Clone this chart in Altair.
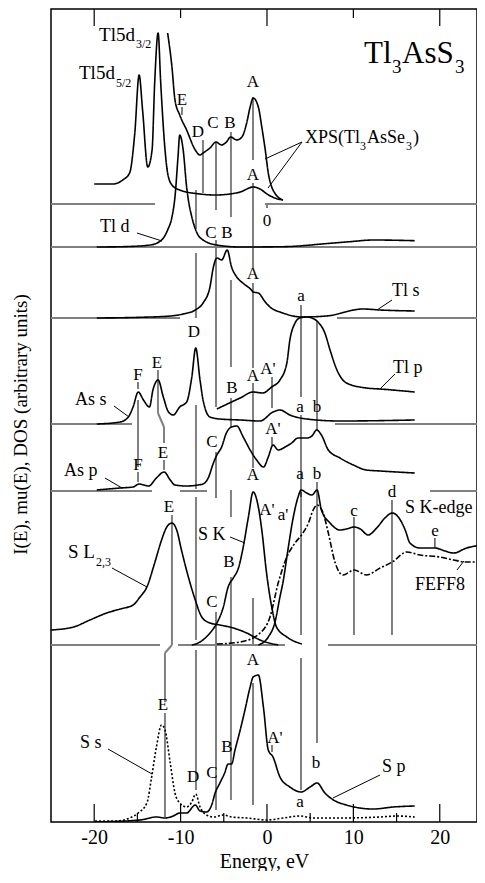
import altair as alt
import pandas as pd

FONT = "Liberation Serif"

# ---------------- spectra: energy (eV) and intensity above own baseline (arb. units)
xps_e = [-20.0, -17.8, -16.7, -15.9, -15.3, -14.8, -14.4, -13.8, -13.3, -13.0, -12.6, -12.3, -11.8,
         -11.5, -11.0, -10.1, -7.75, -6.0, -4.3, -3.1, -1.6, -0.8, 0.0, 0.9, 1.85]
xps_i = [16, 16, 20, 27, 67, 125, 90, 33, 50, 117, 167, 117, 50, 27, 15, 10, 6, 5, 6, 8, 13, 11, 6, 2, 0]

xpsv_e = [-11.5, -11.0, -10.65, -10.1, -9.3, -8.3, -7.75, -7.4, -6.6, -5.9, -5.25, -4.7, -4.2, -3.5,
          -2.9, -2.35, -1.95, -1.6, -1.0, -0.6, -0.2, 0.15, 0.55, 0.9, 1.85]
xpsv_i = [167, 133, 100, 85, 70, 50, 45, 47, 52, 58, 55, 58, 63, 60, 63, 77, 93, 102, 93, 73, 50, 27, 13, 7, 0]

tld_e = [-19.7, -16.7, -13.5, -12.2, -11.5, -11.0, -10.65, -10.3, -10.1, -9.7, -9.3, -9.1, -8.7, -8.1,
         -7.4, -5.8, -3.1, 1.85, 7.3, 9.6, 12.3, 17.1]
tld_i = [0, 0.3, 2, 7, 17, 30, 50, 90, 112, 97, 60, 47, 30, 14, 7, 2, 0, 0.3, 3.7, 5.3, 7, 6.3]

tls_e = [-19.7, -14.7, -11.2, -9.7, -8.3, -7.4, -6.6, -6.2, -5.8, -5.25, -4.6, -4.1, -3.5, -2.8, -1.8,
         -1.6, -1.0, -0.2, 0.35, 1.85, 4.0, 6.9, 11.1, 13.1, 17.1]
tls_i = [0, 0.7, 2, 4, 8, 15, 31, 51, 60, 58, 68, 51, 41, 35, 28, 26, 25, 16, 11, 5, 1, 2, 9, 8, 7]

tlp_e = [-5.8, -4.1, -3.1, -1.6, -0.5, 0.55, 1.5, 2.3, 2.65, 3.25, 3.8, 4.6, 5.2, 5.9, 6.7, 7.3, 8.1,
         9.2, 11.5, 13.1, 17.1]
tlp_i = [15, 22, 26, 32, 31, 37, 44, 61, 84, 101, 106, 107, 106, 102, 91, 74, 54, 41, 36, 35, 32]

ass_e = [-19.7, -17.0, -16.05, -15.5, -14.9, -14.3, -13.6, -13.2, -12.6, -12.0, -11.4, -10.85, -10.1,
         -9.3, -8.7, -8.25, -7.75, -7.4, -6.6, -5.45, -3.1, -0.8, 0.7, 1.5, 2.65, 4.6, 8.45, 17.1]
ass_i = [0, 2, 7, 17, 32, 24, 17, 34, 44, 27, 12, 9, 17, 22, 47, 76, 44, 24, 7, 5, 4, 3, 12, 14, 9, 5, 3, 4]

asp_e = [-19.7, -17.0, -15.5, -14.8, -13.7, -12.8, -11.9, -11.2, -10.65, -9.3, -8.0, -7.4, -6.8, -6.2,
         -5.8, -5.25, -4.7, -4.1, -3.5, -2.75, -1.95, -1.2, -0.4, 0.15, 0.7, 1.3, 2.1, 2.85, 3.6, 4.6,
         5.2, 5.75, 6.3, 7.1, 8.45, 10.0, 11.5, 13.1, 15.0, 17.1]
asp_i = [1, 3, 4, 7, 5, 13, 19, 11, 6, 5, 6, 7, 13, 28, 36, 44, 58, 64, 65, 54, 41, 31, 24, 34, 46, 41,
         44, 48, 53, 53, 55, 61, 56, 41, 33, 26, 21, 20, 19, 18]

sl_e = [-25.0, -22.4, -20.5, -18.55, -17.0, -15.5, -14.7, -13.9, -13.0, -12.2, -11.6, -11.0, -10.45,
        -9.9, -9.1, -8.3, -7.55, -6.6, -5.45, -3.9, -2.35, -0.8, 1.3]
sl_i = [15, 18, 25, 32, 36, 40, 48, 58, 82, 105, 118, 122, 115, 95, 68, 45, 28, 22, 20, 17, 12, 5, 0]

sk_e = [-8.7, -7.75, -6.6, -5.8, -5.05, -4.5, -3.9, -3.3, -2.75, -2.15, -1.6, -1.0, -0.6, -0.05, 0.55,
        1.1, 2.3, 4.05]
sk_i = [0, 3, 12, 22, 38, 58, 67, 77, 98, 128, 153, 138, 115, 72, 38, 18, 8, 1]

ske_e = [-1.0, 0.15, 0.9, 1.5, 1.9, 2.3, 3.05, 3.6, 3.95, 4.6, 5.2, 5.8, 6.3, 7.3, 8.45, 9.2, 10.1,
         10.8, 11.7, 12.7, 13.65, 14.5, 15.2, 16.0, 16.55, 17.7, 19.45, 20.6, 21.6, 23.1, 25.0]
ske_i = [0, 8, 22, 48, 65, 88, 128, 148, 155, 152, 150, 155, 135, 122, 115, 116, 118, 116, 110, 117,
         127, 132, 128, 115, 102, 97, 97, 94, 92, 97, 100]

feff_e = [-5.8, -3.1, -0.8, 0.35, 1.3, 2.3, 3.25, 4.0, 4.8, 5.35, 5.8, 6.5, 7.1, 7.9, 8.8, 10.1, 11.5,
          13.1, 14.5, 16.2, 17.7, 20.0, 21.6, 23.1, 24.65]
feff_i = [1, 3, 12, 28, 62, 88, 102, 110, 122, 135, 140, 132, 112, 82, 70, 75, 70, 77, 83, 93, 90, 88,
          85, 83, 83]

ss_e = [-19.9, -17.4, -15.9, -14.9, -13.9, -13.35, -12.8, -12.2, -11.8, -11.2, -10.65, -10.1, -9.3,
        -8.7, -8.25, -7.75, -7.0, -6.2, -5.05, -4.1, -2.35, 0.0, 1.9, 3.8, 5.35, 8.45, 13.1, 15.0, 17.1]
ss_i = [1, 1, 4, 9, 19, 45, 75, 97, 92, 59, 29, 19, 15, 20, 28, 15, 7, 5, 7, 5, 4, 2, 4, 6, 4, 4, 5, 6, 5]

sp_e = [-19.9, -14.7, -12.8, -11.8, -10.85, -10.1, -9.3, -8.3, -7.75, -7.0, -6.4, -6.0, -5.45, -4.9,
        -4.5, -4.1, -3.7, -3.1, -2.55, -1.95, -1.6, -1.0, -0.4, 0.15, 0.7, 1.5, 2.65, 3.95, 5.0, 5.8,
        6.7, 7.7, 9.2, 12.3, 14.6, 17.1]
sp_i = [0, 2, 5, 4, 6, 9, 9, 17, 11, 10, 17, 29, 39, 49, 58, 58, 72, 92, 112, 135, 145, 147, 114, 72,
        65, 45, 35, 30, 35, 39, 29, 22, 17, 13, 15, 16]

# stacking offsets of each spectrum (arb. units)
spectra = [
    ("XPS", xps_e, xps_i, 622, "solid"),
    ("XPS valence", xpsv_e, xpsv_i, 622, "solid"),
    ("Tl d", tld_e, tld_i, 575, "solid"),
    ("Tl s", tls_e, tls_i, 504, "solid"),
    ("Tl p", tlp_e, tlp_i, 398, "solid"),
    ("As s", ass_e, ass_i, 398, "solid"),
    ("As p", asp_e, asp_i, 331, "solid"),
    ("S L23", sl_e, sl_i, 177, "solid"),
    ("S K", sk_e, sk_i, 177, "solid"),
    ("S K-edge", ske_e, ske_i, 177, "solid"),
    ("FEFF8", feff_e, feff_i, 177, "dashdot"),
    ("S s", ss_e, ss_i, 0, "dot"),
    ("S p", sp_e, sp_i, 0, "solid"),
]

# ---------------- panel separators (energy range, level)
sep_e1 = [-25, -0.23, -25, -25, 8.10, -25, 7.87, -25, -10.07, 18.87, -25, -10.30, 7.06]
sep_e2 = [-12.96, 25, 25, -10.07, 25, -15.63, 25, -13.31, -6.94, 25, -12.38, 2.08, 25]
sep_y = [618, 618, 575, 504, 504, 398, 398, 331, 331, 331, 177, 177, 177]

# ---------------- feature marker lines (gray)
vg_e = [-8.22, -8.22, -8.22, -8.22, -8.22, -7.41, -5.90, -5.90, -5.90, -5.90,
        -4.17, -4.17, -4.17, -4.17, -4.17, -1.62, -1.62, -1.62, -1.62, -1.62, -1.62,
        0.58, 0.58, 0.58, 3.94, 3.94, 3.94, 5.79, 5.79, -9.84, -12.62, -11.92, -11.92,
        -11.00, -11.81, -11.81, -14.93, -14.93, -14.93, 0.0]
vg_top = [632, 569, 417, 325, 172, 682, 680, 582, 370, 210, 690, 542, 424, 332, 245,
          725, 639, 539, 439, 224, 139, 445, 385, 77, 517, 407, 164, 501, 340, 715, 452,
          395, 362, 307, 169, 109, 440, 422, 350, 619]
vg_bot = [593, 504, 333, 182, 32, 629, 612, 415, 324, 12, 605, 455, 395, 305, 22,
          662, 554, 454, 354, 177, 17, 414, 377, 70, 425, 325, 32, 392, 79, 707, 409,
          379, 352, 177, 120, 5, 433, 355, 340, 614]
# thin black marker lines (S K-edge features)
vb_e = [3.94, 10.07, 14.47, 19.44]
vb_top = [330, 305, 322, 284]
vb_bot = [187, 187, 187, 274]
# kinks of the E marker line
gd_e1 = [-12.62, -11.00]
gd_y1 = [409, 177]
gd_e2 = [-11.92, -11.81]
gd_y2 = [395, 169]
# label pointer lines
dg_e1 = [-15.05, 4.05, 4.05, 14.47, -17.71, 14.81, -18.75, -4.28, -17.94, 21.99, -18.40, 13.08]
dg_y1 = [589, 680, 680, 522, 416, 448, 344, 285, 254, 252, 73, 47]
dg_e2 = [-12.15, -0.23, 0.12, 12.73, -15.97, 13.08, -16.78, -2.55, -13.89, 22.80, -13.31, 7.64]
dg_y2 = [581, 663, 634, 512, 405, 433, 334, 279, 235, 261, 48, 24]

# ---------------- texts
c_text = ["0", "E", "D", "C", "B", "A", "A", "C", "B", "A", "a", "D",
          "F", "E", "B", "A", "A'", "a", "b", "F", "E", "C", "A'", "A",
          "a", "b", "d", "c", "e", "E", "B", "C", "A'", "a'",
          "A", "E", "B", "D", "C", "A'", "b", "a"]
c_e = [0, -9.84, -7.99, -6.25, -4.28, -1.62, -1.62, -6.48, -4.63, -1.62, 3.94, -8.45,
       -14.93, -12.73, -4.05, -1.62, 0.12, 3.82, 5.79, -14.93, -12.04, -6.37, 0.69, -1.62,
       3.82, 5.79, 14.47, 10.07, 19.44, -11.34, -4.40, -6.37, 0.0, 1.85,
       -1.62, -12.04, -4.63, -8.56, -6.37, 0.93, 5.67, 3.82]
c_y = [596, 717, 685, 694, 694, 735, 642, 584, 584, 543, 521, 485,
       442, 454, 429, 441, 448, 410, 410, 352, 364, 375, 388, 342,
       343, 343, 325, 306, 286, 310, 255, 215, 307, 302,
       157, 112, 70, 40, 44, 79, 54, 15]

l_text = ["Tl", "3", "AsS", "3",
          "XPS(Tl", "3", "AsSe", "3", ")",
          "Tl5d", "3/2", "Tl5d", "5/2", "S L", "2,3",
          "Tl d", "Tl s", "Tl p", "As s", "As p", "S K", "S K-edge", "FEFF8", "S s", "S p"]
l_e = [11.23, 14.47, 15.63, 21.76,
       4.40, 10.76, 11.57, 16.09, 16.90,
       -19.44, -15.16, -21.76, -17.48, -23.03, -19.79,
       -19.33, 14.47, 14.58, -22.22, -23.50, -7.99, 15.97, 17.13, -21.64, 13.31]
l_y = [759, 749, 759, 749,
       679, 672, 679, 672, 679,
       781, 774, 743, 735, 264, 256,
       590, 526, 449, 417, 346, 282, 309, 232, 74, 50]
l_size = [31, 19, 31, 19,
          18, 12, 18, 12, 18,
          19, 12, 19, 12, 19, 12,
          18, 18, 18, 18, 18, 18, 18, 18, 18, 18]

major_ticks = [-20, -10, 0, 10, 20]
minor_ticks = [-15, -5, 5, 15]
top_major = [-20, 0, 20]
top_minor = [-10, 10]

# ---------------- build tables
frames = []
for name, es, ins, off, dash in spectra:
    df = pd.DataFrame({"e": es, "i": ins})
    df["y"] = df["i"] + off
    df["curve"] = name
    df["dash"] = dash
    df["idx"] = range(len(df))
    frames.append(df)
curves = pd.concat(frames, ignore_index=True)

seps = pd.DataFrame({"e": sep_e1, "e2": sep_e2, "y": sep_y})
vgray = pd.DataFrame({"e": vg_e, "y": vg_top, "y2": vg_bot})
vblack = pd.DataFrame({"e": vb_e, "y": vb_top, "y2": vb_bot})
gdiag = pd.DataFrame({"e": gd_e1, "y": gd_y1, "e2": gd_e2, "y2": gd_y2})
pdiag = pd.DataFrame({"e": dg_e1, "y": dg_y1, "e2": dg_e2, "y2": dg_y2})
ctext = pd.DataFrame({"e": c_e, "y": c_y, "t": c_text})
ltext = pd.DataFrame({"e": l_e, "y": l_y, "t": l_text, "s": l_size})

PLOT_W, PLOT_H = 426, 813
xscale = alt.Scale(domain=[-25, 24.31], nice=False, zero=False)
yscale = alt.Scale(domain=[0, 813], nice=False, zero=False)
xaxis = alt.Axis(values=major_ticks, title="Energy, eV", ticks=False, tickSize=0, domain=False,
                 grid=False, labelFont=FONT, labelFontSize=20, labelColor="black",
                 labelPadding=21, labelBaseline="alphabetic",
                 labelExpr="'' + datum.value",
                 titleFont=FONT, titleFontSize=20, titleFontWeight="normal", titleColor="black",
                 titleBaseline="alphabetic", titleY=45)
yaxis = alt.Axis(title="I(E), mu(E), DOS (arbitrary units)", labels=False, ticks=False,
                 domain=False, grid=False, titleFont=FONT, titleFontSize=19,
                 titleFontWeight="normal", titleColor="black", titleAngle=270,
                 titleAlign="center", titleBaseline="middle", titleX=-31, titleY=415)


def X(f="e"):
    return alt.X(f"{f}:Q", scale=xscale, axis=xaxis)


def Y(f="y"):
    return alt.Y(f"{f}:Q", scale=yscale, axis=yaxis)


GRAY = "#808080"

sep_layer = alt.Chart(seps).mark_rule(color=GRAY, strokeWidth=2, clip=True).encode(
    x=X(), x2=alt.X2("e2:Q"), y=Y())
vg_layer = alt.Chart(vgray).mark_rule(color=GRAY, strokeWidth=2).encode(
    x=X(), y=Y(), y2=alt.Y2("y2:Q"))
gd_layer = alt.Chart(gdiag).mark_rule(color=GRAY, strokeWidth=2).encode(
    x=X(), x2=alt.X2("e2:Q"), y=Y(), y2=alt.Y2("y2:Q"))
vb_layer = alt.Chart(vblack).mark_rule(color="black", strokeWidth=1).encode(
    x=X(), y=Y(), y2=alt.Y2("y2:Q"))
pd_layer = alt.Chart(pdiag).mark_rule(color="black", strokeWidth=1).encode(
    x=X(), x2=alt.X2("e2:Q"), y=Y(), y2=alt.Y2("y2:Q"))

line_layer = alt.Chart(curves).mark_line(color="black", strokeWidth=1.6, interpolate="monotone",
                                         clip=True).encode(
    x=X(), y=Y(), detail="curve:N", order="idx:Q",
    strokeDash=alt.StrokeDash("dash:N", legend=None,
                              scale=alt.Scale(domain=["solid", "dot", "dashdot"],
                                              range=[[1, 0], [2, 2], [6, 2, 2, 2]])))

tick_bmaj = alt.Chart(pd.DataFrame({"e": major_ticks})).mark_rule(color="black", strokeWidth=1.2).encode(
    x=X(), y=alt.value(PLOT_H), y2=alt.value(PLOT_H - 18))
tick_bmin = alt.Chart(pd.DataFrame({"e": minor_ticks})).mark_rule(color="black", strokeWidth=1.2).encode(
    x=X(), y=alt.value(PLOT_H), y2=alt.value(PLOT_H - 9))
tick_tmaj = alt.Chart(pd.DataFrame({"e": top_major})).mark_rule(color="black", strokeWidth=1.2).encode(
    x=X(), y=alt.value(0), y2=alt.value(17))
tick_tmin = alt.Chart(pd.DataFrame({"e": top_minor})).mark_rule(color="black", strokeWidth=1.2).encode(
    x=X(), y=alt.value(0), y2=alt.value(9))

ctext_layer = alt.Chart(ctext).mark_text(font=FONT, fontSize=17, color="black", align="center",
                                         baseline="alphabetic").encode(x=X(), y=Y(), text="t:N")
ltext_layer = alt.Chart(ltext).mark_text(font=FONT, color="black", align="left",
                                         baseline="alphabetic").encode(
    x=X(), y=Y(), text="t:N", size=alt.Size("s:Q", scale=None))

chart = alt.layer(
    sep_layer, vg_layer, gd_layer, vb_layer, pd_layer, line_layer,
    tick_bmaj, tick_bmin, tick_tmaj, tick_tmin, ctext_layer, ltext_layer
).properties(
    width=PLOT_W, height=PLOT_H,
    autosize=alt.AutoSizeParams(type="none"),
    padding={"left": 43, "top": 1, "right": 0, "bottom": 49},
    background="white",
).configure_view(stroke="black", strokeWidth=1.5)

chart.save("out.html", embed_options={"renderer": "svg", "actions": False})
